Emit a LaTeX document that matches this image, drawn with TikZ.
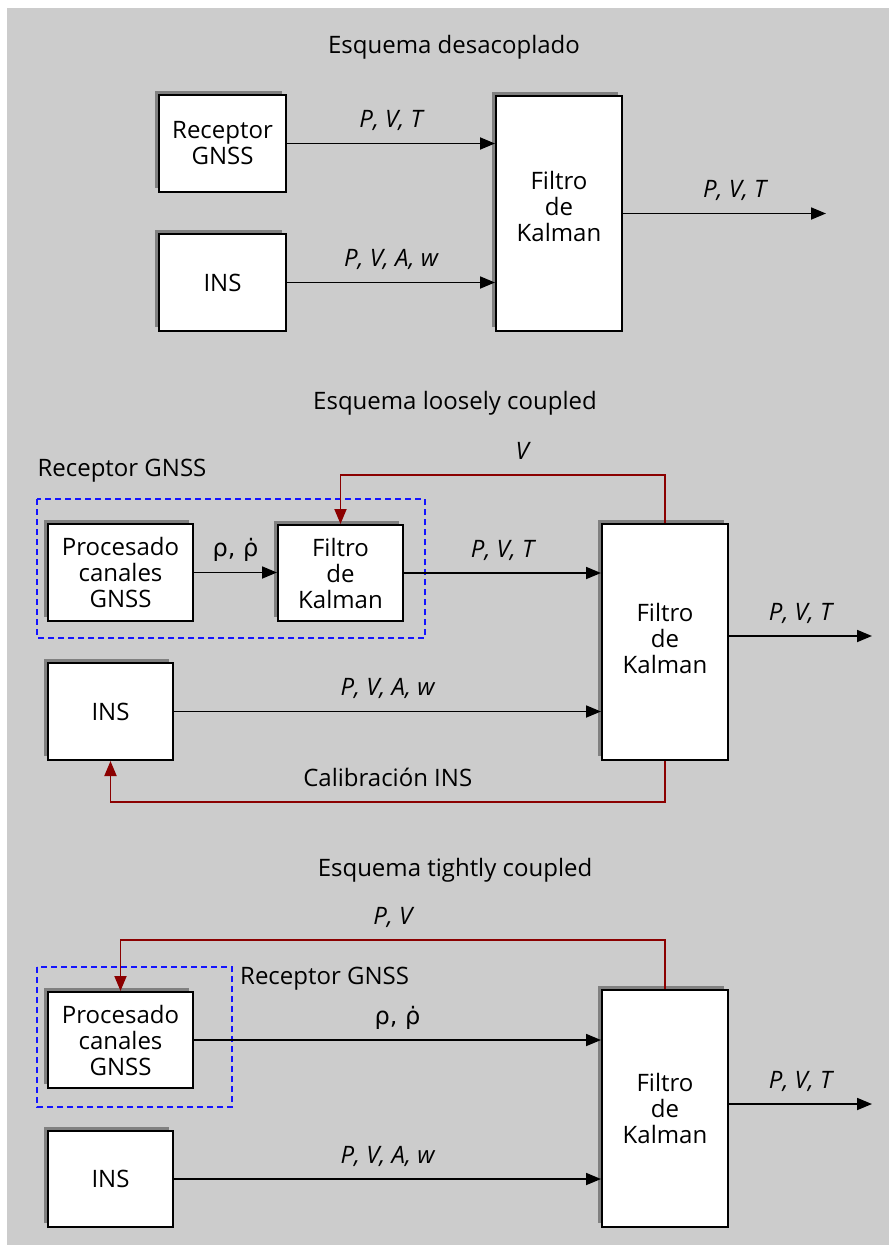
\documentclass[tikz,border=0pt]{standalone}
\usepackage{fontspec}
\setmainfont{Open Sans}
\newfontfamily\grk{DejaVu Sans}
\usetikzlibrary{arrows.meta,shadows,calc}
\newcommand{\rhodot}{{\grk ρ, ρ̇}}
\begin{document}
\begin{tikzpicture}[x=1pt,y=-1pt,
  font=\fontsize{24}{26}\selectfont,
  blk/.style={draw=black, line width=2pt, fill=white, align=center, inner sep=0pt,
    drop shadow={shadow xshift=-4pt, shadow yshift=4pt, fill=black!50, opacity=1}},
  txt/.style={align=center, inner sep=0pt},
  arr/.style={line width=1.8pt, -{Triangle[length=15pt,width=12pt]}},
  fb/.style={draw={rgb,255:red,139;green,0;blue,0}, line width=1.9pt,
    -{Triangle[length=15pt,width=12pt]}},
  lbl/.style={anchor=base, yshift=16pt, inner sep=0pt, font=\fontsize{24}{26}\selectfont\itshape},
  lblr/.style={anchor=base, yshift=16pt, inner sep=0pt},
  ttl/.style={inner sep=0pt},
  dashbox/.style={draw={rgb,255:red,20;green,20;blue,255}, line width=1.6pt, dash pattern=on 6pt off 4pt}
]
\useasboundingbox (0,0) rectangle (889,1245);
\fill[white] (0,0) rectangle (889,1245);
\fill[black!20] (7,8) rectangle (889,1245);

% ---------- Section 1 ----------
\node[ttl] (t1) at (454,47) {Esquema desacoplado};
\node[blk, minimum width=127pt, minimum height=97pt] (rec1) at (222.5,143.5) {Receptor\\GNSS};
\node[blk, minimum width=127pt, minimum height=97pt] (ins1) at (222.5,282.5) {INS};
\node[blk, minimum width=126pt, minimum height=235pt] (kal1) at (559,213.5) {};
\node[txt] (kal1t) at ([yshift=7pt]kal1.center) {Filtro\\de\\Kalman};
\coordinate (out1) at (826,213);
\draw[arr] (rec1.east) -- (rec1.east -| kal1.west) node[lbl, midway] {P, V, T};
\draw[arr] (ins1.east) -- (ins1.east -| kal1.west) node[lbl, midway] {P, V, A, w};
\draw[arr] (kal1.east) -- (kal1.east -| out1) node[lbl, pos=0.55] {P, V, T};

% ---------- Section 2 ----------
\node[ttl] (t2) at (455,403) {Esquema loosely coupled};
\node[ttl] (rg2) at (122,471) {Receptor GNSS};
\draw[dashbox] (37,499) rectangle (425,638);
\node[blk, minimum width=145pt, minimum height=97pt] (procA) at (120.5,572.5) {Procesado\\canales\\GNSS};
\node[blk, minimum width=125pt, minimum height=96pt] (kalA) at (340.5,573) {Filtro\\de\\Kalman};
\node[blk, minimum width=126pt, minimum height=236pt] (bigA) at (665,642) {};
\node[txt] (bigAt) at ([yshift=4pt]bigA.center) {Filtro\\de\\Kalman};
\node[blk, minimum width=125pt, minimum height=97pt] (insA) at (110.5,711.5) {INS};
\coordinate (outA) at (872,636);
\draw[arr] (procA.east) -- (procA.east -| kalA.west) node[lblr, midway] {\rhodot};
\draw[arr] (kalA.east) -- (kalA.east -| bigA.west) node[lbl, midway] {P, V, T};
\draw[arr] (insA.east) -- (insA.east -| bigA.west) node[lbl, midway] {P, V, A, w};
\draw[arr] (outA -| bigA.east) -- (outA) node[lbl, midway] {P, V, T};
\draw[fb] (bigA.north) -- ++(0,-48) -| (kalA.north) node[lbl, pos=0.22] {V};
\draw[fb] (bigA.south) -- ++(0,41) -| (insA.south) node[lblr, pos=0.25] {Calibración INS};

% ---------- Section 3 ----------
\node[ttl] (t3) at (455,870) {Esquema tightly coupled};
\draw[dashbox] (37,967) rectangle (232,1107);
\node[ttl, anchor=west] (rg3) at (240,979) {Receptor GNSS};
\node[blk, minimum width=145pt, minimum height=96pt] (procB) at (120.5,1040) {Procesado\\canales\\GNSS};
\node[blk, minimum width=126pt, minimum height=237pt] (bigB) at (665,1108.5) {Filtro\\de\\Kalman};
\node[blk, minimum width=125pt, minimum height=96pt] (insB) at (110.5,1179) {INS};
\coordinate (outB) at (872,1104);
\draw[arr] (procB.east) -- (procB.east -| bigB.west) node[lblr, midway] {\rhodot};
\draw[arr] (insB.east) -- (insB.east -| bigB.west) node[lbl, midway] {P, V, A, w};
\draw[arr] (outB -| bigB.east) -- (outB) node[lbl, midway] {P, V, T};
\draw[fb] (bigB.north) -- ++(0,-49) -| (procB.north) node[lbl, pos=0.25] {P, V};
\end{tikzpicture}
\end{document}
